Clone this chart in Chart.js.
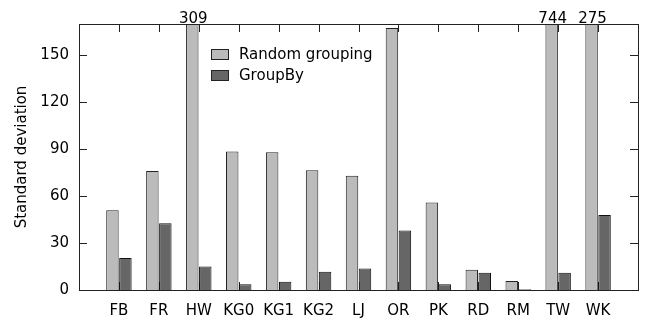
<!DOCTYPE html>
<html>
<head>
<meta charset="utf-8">
<script src="https://cdn.jsdelivr.net/npm/chart.js@4"></script>
<style>
html,body{margin:0;padding:0;background:#fff;}
#wrap{width:650px;height:320px;}
</style>
</head>
<body>
<div id="wrap"><canvas id="c" width="650" height="320"></canvas></div>
<script>
const categories = ['FB','FR','HW','KG0','KG1','KG2','LJ','OR','PK','RD','RM','TW','WK'];
const randomGrouping = [51, 76, 309, 88.5, 88, 76.5, 73, 167.5, 56, 13, 5.7, 744, 275];
const groupBy = [20.5, 42.7, 15, 3.7, 5.3, 11.7, 13.8, 38, 3.6, 11, 0.5, 11, 48];
const yTicks = [0, 30, 60, 90, 120, 150];
const yMax = 170;

const FONT = 'DejaVu Sans';
const labels = [''].concat(categories, ['']);
const pad = arr => [null].concat(arr, [null]);

const framePlugin = {
  id: 'frame',
  beforeDatasetsDraw(chart) {
    const {ctx, chartArea: a, scales: {x, y}} = chart;
    ctx.save();
    ctx.strokeStyle = '#222';
    ctx.lineWidth = 1;
    ctx.beginPath();
    for (let i = 1; i <= categories.length; i++) {
      const px = Math.round(x.getPixelForValue(i)) + 0.5;
      ctx.moveTo(px, a.top); ctx.lineTo(px, a.top + 8);
      ctx.moveTo(px, a.bottom); ctx.lineTo(px, a.bottom - 8);
    }
    ctx.stroke();
    ctx.restore();
  },
  afterDatasetsDraw(chart) {
    const {ctx, chartArea: a, scales: {x, y}} = chart;
    ctx.save();
    ctx.strokeStyle = '#222';
    ctx.lineWidth = 1;
    ctx.beginPath();
    yTicks.forEach(v => {
      const py = Math.round(y.getPixelForValue(v)) + 0.5;
      ctx.moveTo(a.left, py); ctx.lineTo(a.left + 8, py);
      ctx.moveTo(a.right, py); ctx.lineTo(a.right - 8, py);
    });
    ctx.stroke();
    ctx.strokeRect(Math.round(a.left) + 0.5, Math.round(a.top) + 0.5,
      Math.round(a.right - a.left), Math.round(a.bottom - a.top));
    // overflow labels
    ctx.fillStyle = '#000';
    ctx.font = '15px "' + FONT + '"';
    ctx.textAlign = 'center';
    ctx.textBaseline = 'alphabetic';
    const meta = chart.getDatasetMeta(0);
    randomGrouping.forEach((v, i) => {
      if (v > yMax) {
        const bar = meta.data[i + 1];
        ctx.fillText(String(v), bar.x + 1, a.top - 1);
      }
    });
    // legend
    const lx = 211, ly = 49, bw = 18, bh = 11, gap = 20.5;
    chart.data.datasets.forEach((ds, k) => {
      const yy = Math.round(ly + k * gap);
      ctx.fillStyle = ds.backgroundColor;
      ctx.fillRect(lx, yy, bw, bh);
      ctx.strokeStyle = '#222';
      ctx.strokeRect(lx + 0.5, yy + 0.5, bw - 1, bh - 1);
      ctx.fillStyle = '#000';
      ctx.textAlign = 'left';
      ctx.textBaseline = 'middle';
      ctx.fillText(ds.label, lx + 28, yy + bh / 2 + 1);
    });
    ctx.restore();
  }
};

new Chart(document.getElementById('c'), {
  type: 'bar',
  data: {
    labels: labels,
    datasets: [
      { label: 'Random grouping', data: pad(randomGrouping), backgroundColor: '#bbbbbb', borderColor: '#222', borderWidth: 1, borderSkipped: 'bottom' },
      { label: 'GroupBy', data: pad(groupBy), backgroundColor: '#666666', borderColor: '#111', borderWidth: 1, borderSkipped: 'bottom' }
    ]
  },
  options: {
    responsive: false,
    animation: false,
    events: [],
    layout: { padding: { top: 24, right: 7, left: 0, bottom: 0 } },
    datasets: { bar: { categoryPercentage: 0.65, barPercentage: 0.96 } },
    plugins: { legend: { display: false }, tooltip: { enabled: false } },
    scales: {
      x: {
        type: 'category',
        offset: false,
        grid: { display: false, drawTicks: false },
        border: { display: false },
        ticks: { autoSkip: false, maxRotation: 0, minRotation: 0, padding: 12, color: '#000', font: { family: FONT, size: 15 } },
        afterFit: s => { s.height = 30; }
      },
      y: {
        min: 0, max: yMax,
        afterBuildTicks: s => { s.ticks = yTicks.map(v => ({ value: v })); },
        grid: { display: false, drawTicks: false },
        border: { display: false },
        ticks: { padding: 10, color: '#000', font: { family: FONT, size: 15 } },
        title: { display: true, text: 'Standard deviation', color: '#000', font: { family: FONT, size: 15 }, padding: { top: 13, bottom: 0 } },
        afterFit: s => { s.width = 79; }
      }
    }
  },
  plugins: [framePlugin]
});
</script>
</body>
</html>
